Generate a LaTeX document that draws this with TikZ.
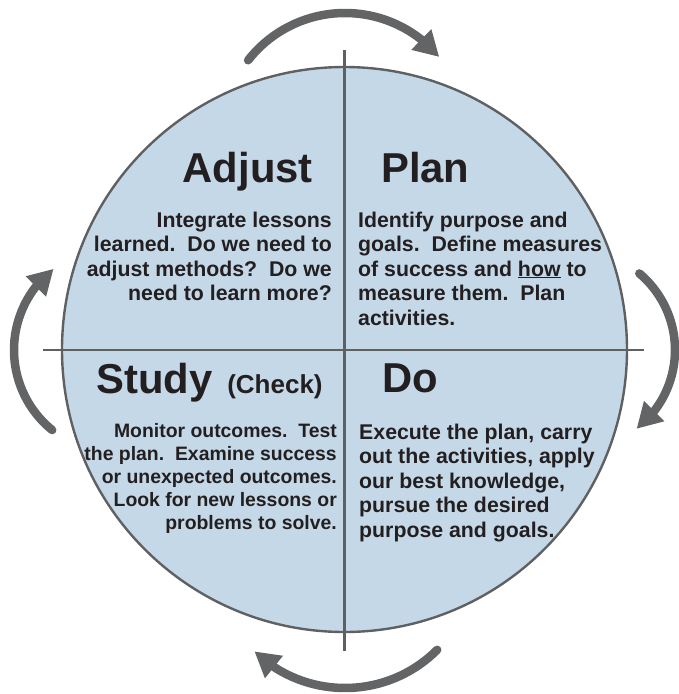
\documentclass[tikz,border=0pt]{standalone}
\usepackage{fontspec}
\setmainfont{Liberation Sans}
\usetikzlibrary{arrows.meta,bending}

\definecolor{pdsafill}{HTML}{C5D8E8}
\definecolor{pdsaline}{HTML}{5F6062}
\definecolor{pdsaarrow}{HTML}{636466}
\definecolor{pdsatext}{HTML}{231F20}

\begin{document}
\begin{tikzpicture}[
      x=1pt, y=1pt,
      cyclearrow/.style = {
        draw=pdsaarrow,
        line width=8.5pt,
        line cap=round,
        -{Triangle[length=25pt,width=27pt]}
      },
      divider/.style = {
        draw=pdsaline,
        line width=2.4pt
      },
      title/.style = {
        inner sep=0pt,
        text=pdsatext,
        font=\fontsize{41.8}{44}\selectfont\bfseries
      },
      body/.style = {
        inner sep=0pt,
        text=pdsatext,
        font=\fontsize{21.3}{24.5}\selectfont\bfseries
      },
      smallbody/.style = {
        inner sep=0pt,
        text=pdsatext,
        font=\fontsize{19.4}{23}\selectfont\bfseries
      }
    ]
    \useasboundingbox (0,0) rectangle (679,-694);

    % the circle and its quarters
    \coordinate (mid) at (344.5,-349.5);
    \fill[pdsafill] (mid) circle[radius=282.5];
    \draw[divider] (43,-350) -- (644,-350);
    \draw[divider] (344.5,-50) -- (344.5,-651);
    \draw[divider] (mid) circle[radius=282.5];

    % arrows round the cycle
    \coordinate (topc) at (345,-136);
    \coordinate (rightc) at (575,-350);
    \coordinate (bottomc) at (345,-557.6);
    \coordinate (leftc) at (117,-350);
    \draw[cyclearrow] ([shift={(142:123)}]topc) arc[start angle=142, end angle=40, radius=123];
    \draw[cyclearrow] ([shift={(50:100)}]rightc) arc[start angle=50, end angle=-52, radius=100];
    \draw[cyclearrow] ([shift={(-45:130.4)}]bottomc) arc[start angle=-45, end angle=-134, radius=130.4];
    \draw[cyclearrow] ([shift={(231:103)}]leftc) arc[start angle=231, end angle=128, radius=103];

    % titles
    \node[title, anchor=base east] (adjust) at (313,-182) {Adjust};
    \node[title, anchor=base west] (plan) at (381,-182) {Plan};
    \node[title, anchor=base west] (study) at (96,-393)
      {Study\hspace{15pt}{\fontsize{26}{26}\selectfont(Check)}};
    \node[title, anchor=base west] (do) at (382,-392) {Do};

    % texts (base = last line)
    \node[body, anchor=base east, align=right] (adjusttext) at (332,-300.5)
      {Integrate lessons\\learned.\ \ Do we need to\\adjust methods?\ \ Do we\\need to learn more?};
    \node[body, anchor=base west, align=left] (plantext) at (358,-325)
      {Identify purpose and\\goals.\ \ Define measures\\of success and \underline{how} to\\measure them.\ \ Plan\\activities.};
    \node[smallbody, anchor=base east, align=right] (studytext) at (337,-529)
      {Monitor outcomes.\ \ Test\\the plan.\ \ Examine success\\or unexpected outcomes.\\Look for new lessons or\\problems to solve.};
    \node[body, anchor=base west, align=left] (dotext) at (359,-537)
      {Execute the plan, carry\\out the activities, apply\\our best knowledge,\\pursue the desired\\purpose and goals.};
  \end{tikzpicture}
\end{document}
